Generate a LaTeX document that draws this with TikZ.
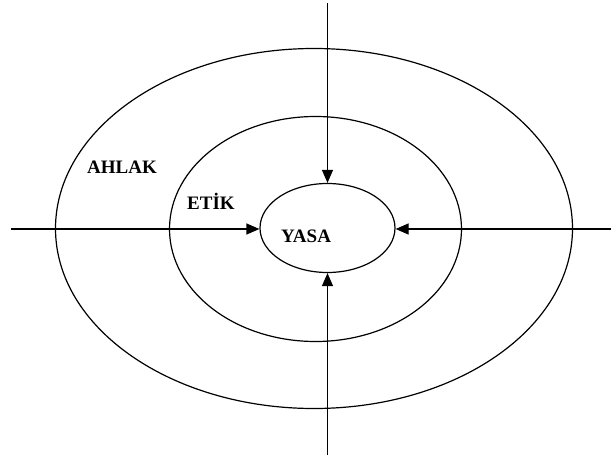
\documentclass[tikz,border=0pt]{standalone}
\usepackage{fontspec}
\setmainfont{Liberation Serif}
\usetikzlibrary{shapes.geometric, arrows.meta}
\tikzset{
  ring/.style={draw, ellipse, line width=1.2pt, inner sep=0pt},
  inarrow/.style={line width=1.2pt, -{Triangle[length=13pt, width=11pt]}},
  tag/.style={font=\fontsize{19}{22}\selectfont\bfseries, inner sep=0pt}
}

\begin{document}
\begin{tikzpicture}[x=1pt, y=-1pt]
    \useasboundingbox (0,0) rectangle (611,460);

    % Nested ellipses
    \node[ring, minimum width=517pt, minimum height=360pt] (ahlak) at (314,228.5) {};
    \node[ring, minimum width=292pt, minimum height=225pt] (etik) at (315.5,229) {};
    \node[ring, minimum width=135pt, minimum height=89pt] (yasa) at (327.5,228) {};

    % Labels
    \node[tag] (ahlaktext) at (122,167) {AHLAK};
    \node[tag] (etiktext) at (211,201) {ETİK};
    \node[tag] (yasatext) at (306,236) {YASA};

    % Arrows pointing inwards
    \coordinate (N) at (327.5,3);
    \coordinate (S) at (327.5,455);
    \coordinate (W) at (11,229);
    \coordinate (E) at (611,229);
    \draw[inarrow] (N) -- (yasa.north);
    \draw[inarrow] (S) -- (yasa.south);
    \draw[inarrow] (W) -- (W -| yasa.west);
    \draw[inarrow] (E) -- (E -| yasa.east);

\end{tikzpicture}
\end{document}
